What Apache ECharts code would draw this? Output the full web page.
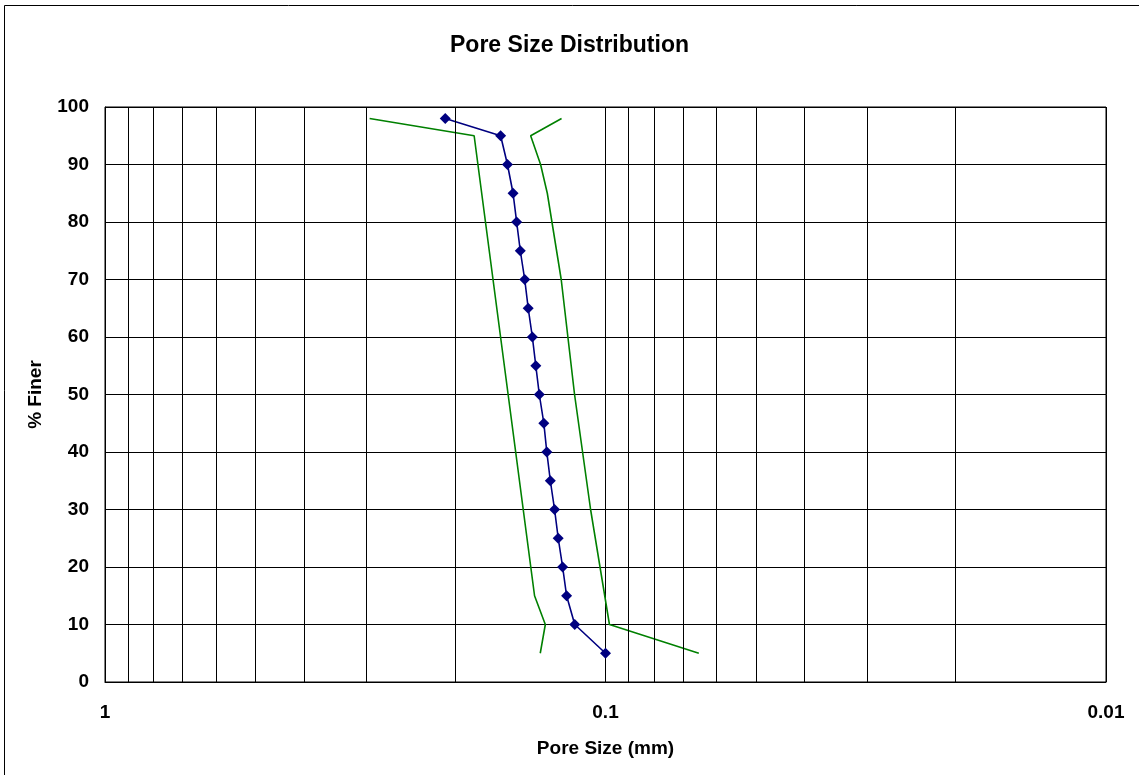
<!DOCTYPE html>
<html>
<head>
<meta charset="utf-8">
<script src="https://cdn.jsdelivr.net/npm/echarts@6/dist/echarts.min.js"></script>
<style>
  html, body { margin: 0; padding: 0; background: #fff; }
  #chart { width: 1139px; height: 775px; }
</style>
</head>
<body>
<div id="chart"></div>
<script>
// % finer levels of the measured curve
const finerLevels = [98, 95, 90, 85, 80, 75, 70, 65, 60, 55, 50, 45, 40, 35, 30, 25, 20, 15, 10, 5];
// measured pore sizes (mm) at those levels
const poreSizes = [0.209, 0.162, 0.157, 0.153, 0.1505, 0.148, 0.145, 0.1427, 0.140, 0.1378,
                   0.1356, 0.1328, 0.131, 0.1289, 0.1264, 0.1243, 0.1218, 0.1196, 0.1152, 0.100];

// coarse-side limit band
const coarseFiner = [98, 95, 15, 10, 5];
const coarseSizes = [0.296, 0.183, 0.1386, 0.1319, 0.135];

// fine-side limit band
const fineFiner = [98, 95, 90, 85, 70, 50, 30, 10, 5];
const fineSizes = [0.1224, 0.1411, 0.1348, 0.1307, 0.1226, 0.1153, 0.1071, 0.0982, 0.0651];

// log-cycle grid lines between decades
const minorGrid = [0.9, 0.8, 0.7, 0.6, 0.5, 0.4, 0.3, 0.2,
                   0.09, 0.08, 0.07, 0.06, 0.05, 0.04, 0.03, 0.02];

const xTickLabels = ['1', '0.1', '0.01'];

const FONT = '"Liberation Sans", Arial, sans-serif';

function pairs(xs, ys) {
  return xs.map((x, i) => [x, ys[i]]);
}

const chart = echarts.init(document.getElementById('chart'), null, { renderer: 'canvas' });

chart.setOption({
  animation: false,
  backgroundColor: '#ffffff',
  title: {
    text: 'Pore Size Distribution',
    left: 'center',
    top: 29,
    textStyle: { fontFamily: FONT, fontSize: 23, fontWeight: 'bold', color: '#000' }
  },
  graphic: [{
    type: 'rect',
    shape: { x: 4.5, y: 5.5, width: 1145, height: 800 },
    style: { fill: null, stroke: '#000', lineWidth: 1 },
    silent: true,
    z: -10
  }],
  grid: {
    left: 105, right: 33, top: 107, bottom: 93,
    show: true,
    borderColor: '#000',
    borderWidth: 1,
    backgroundColor: '#fff'
  },
  xAxis: {
    type: 'log',
    logBase: 10,
    min: 0.01,
    max: 1,
    inverse: true,
    name: 'Pore Size (mm)',
    nameLocation: 'middle',
    nameGap: 57,
    nameTextStyle: { fontFamily: FONT, fontSize: 19, fontWeight: 'bold', color: '#000' },
    axisLine: { show: true, lineStyle: { color: '#000', width: 1 } },
    axisTick: { show: false },
    axisLabel: {
      fontFamily: FONT, fontSize: 19, fontWeight: 'bold', color: '#000', margin: 21,
      formatter: v => {
        const k = Math.round(-Math.log10(v));
        return xTickLabels[k] !== undefined ? xTickLabels[k] : '';
      }
    },
    splitLine: { show: true, lineStyle: { color: '#000', width: 1 } }
  },
  yAxis: {
    type: 'value',
    min: 0,
    max: 100,
    interval: 10,
    name: '% Finer',
    nameLocation: 'middle',
    nameGap: 60,
    nameTextStyle: { fontFamily: FONT, fontSize: 19, fontWeight: 'bold', color: '#000' },
    axisLine: { show: true, lineStyle: { color: '#000', width: 1 } },
    axisTick: { show: false },
    axisLabel: { fontFamily: FONT, fontSize: 19, fontWeight: 'bold', color: '#000', margin: 16 },
    splitLine: { show: true, lineStyle: { color: '#000', width: 1 } }
  },
  series: [
    {
      name: 'cycles',
      type: 'line',
      data: [],
      z: 1,
      silent: true,
      markLine: {
        silent: true,
        symbol: 'none',
        label: { show: false },
        lineStyle: { color: '#000', width: 1, type: 'solid' },
        data: minorGrid.map(v => ({ xAxis: v }))
      }
    },
    {
      name: 'coarse limit',
      type: 'line',
      z: 3,
      data: pairs(coarseSizes, coarseFiner),
      showSymbol: false,
      symbol: 'none',
      lineStyle: { color: '#008000', width: 1.6 }
    },
    {
      name: 'fine limit',
      type: 'line',
      z: 3,
      data: pairs(fineSizes, fineFiner),
      showSymbol: false,
      symbol: 'none',
      lineStyle: { color: '#008000', width: 1.6 }
    },
    {
      name: 'measured',
      type: 'line',
      z: 4,
      data: pairs(poreSizes, finerLevels),
      symbol: 'diamond',
      symbolSize: 11,
      itemStyle: { color: '#000080' },
      lineStyle: { color: '#000080', width: 1.6 }
    }
  ]
});
</script>
</body>
</html>
